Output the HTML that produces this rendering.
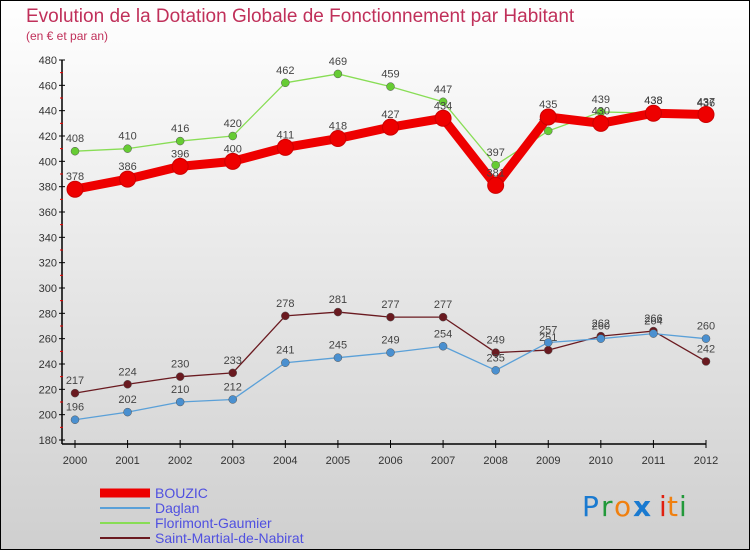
<!DOCTYPE html>
<html><head><meta charset="utf-8"><style>
body{margin:0;width:750px;height:550px;overflow:hidden}
svg{display:block;font-family:"Liberation Sans",sans-serif}
</style></head><body>
<svg width="750" height="550">
<defs><linearGradient id="bg" x1="0" y1="0" x2="0" y2="1"><stop offset="0" stop-color="#ffffff"/><stop offset="1" stop-color="#cfcfcf"/></linearGradient></defs>
<rect x="0.5" y="0.5" width="749" height="549" fill="url(#bg)" stroke="#000"/>
<text x="26" y="22" font-size="19" fill="#c0305a">Evolution de la Dotation Globale de Fonctionnement par Habitant</text>
<text x="26" y="40" font-size="12" fill="#c0305a">(en € et par an)</text>
<g id="axes"></g>
<g id="series"></g>
<g id="legend"></g>
<g font-size="28" font-family="'DejaVu Sans',sans-serif">
<text x="582" y="516" fill="#1a7ad0">P</text><text x="601" y="516" fill="#22993a">r</text><text x="614" y="516" fill="#f08010">o</text><text x="633" y="516" fill="#1a7ad0" font-weight="bold">x</text><text x="659" y="516" fill="#e02010">i</text><text x="667" y="516" fill="#f08010">t</text><text x="679" y="516" fill="#22993a">i</text>
</g>
</svg>
<script>
const years=[2000,2001,2002,2003,2004,2005,2006,2007,2008,2009,2010,2011,2012];
const yTicks=[180,200,220,240,260,280,300,320,340,360,380,400,420,440,460,480];
const bouzic=[378,386,396,400,411,418,427,434,381,435,430,438,437];
const daglan=[196,202,210,212,241,245,249,254,235,257,260,264,260];
const florimont=[408,410,416,420,462,469,459,447,397,424,439,438,436];
const stMartial=[217,224,230,233,278,281,277,277,249,251,262,266,242];
const NS="http://www.w3.org/2000/svg";
function X(i){return 75+i*(706-75)/12;}
function Y(v){return 440-(v-180)*380/300;}
function mk(tag,attrs,parent){const e=document.createElementNS(NS,tag);for(const k in attrs)e.setAttribute(k,attrs[k]);parent.appendChild(e);return e;}
const axes=document.getElementById('axes');
const ya=mk('line',{x1:62,y1:60,x2:62,y2:444,stroke:'#000','stroke-width':1.5},axes);


const xa=mk('line',{x1:62,y1:444,x2:706,y2:444,stroke:'#000','stroke-width':1.5},axes);


yTicks.forEach((v,i)=>{
 mk('line',{x1:59,y1:Y(v),x2:65,y2:Y(v),stroke:'#000'},axes);
 if(i<yTicks.length-1) mk('line',{x1:60,y1:Y(v+10),x2:63,y2:Y(v+10),stroke:'#e00'},axes);
 const t=mk('text',{x:57,y:Y(v)+4,'font-size':11,fill:'#333','text-anchor':'end'},axes);t.textContent=v;
 
 
});
years.forEach((yr,i)=>{
 mk('line',{x1:X(i),y1:440,x2:X(i),y2:448,stroke:'#000'},axes);
 const t=mk('text',{x:X(i),y:464,'font-size':11,fill:'#333','text-anchor':'middle'},axes);t.textContent=yr;
 
 
});
const defs=[
 {d:florimont,c:'#88dd55',mc:'#66cc33',w:1.3,r:4,n:'florimont-gaumier',label:'Florimont-Gaumier'},
 {d:stMartial,c:'#6a1a20',mc:'#6a1a20',w:1.3,r:4,n:'saint-martial-de-nabirat',label:'Saint-Martial-de-Nabirat'},
 {d:daglan,c:'#5aa0d8',mc:'#4a90d0',w:1.3,r:4,n:'daglan',label:'Daglan'},
 {d:bouzic,c:'#ee0000',mc:'#ee0000',w:9,r:8,n:'bouzic',label:'BOUZIC'}
];
const sg=document.getElementById('series');
defs.forEach(s=>{
 const g=mk('g',{},sg);
 
 
 const pl=mk('polyline',{points:s.d.map((v,i)=>X(i)+','+Y(v)).join(' '),fill:'none',stroke:s.c,'stroke-width':s.w,'stroke-linejoin':'round'},g);
 
 
 s.d.forEach((v,i)=>{
  const c=mk('circle',{cx:X(i),cy:Y(v),r:s.r,fill:s.mc,stroke:s.n==='bouzic'?'#cc0000':'#555','stroke-width':s.n==='bouzic'?1:0.5},g);
  
  
  const t=mk('text',{x:X(i),y:Y(v)-9,'font-size':11,fill:'#444','text-anchor':'middle'},g);t.textContent=v;
  
  
 });
});
const lg=document.getElementById('legend');
const order=[defs[3],defs[2],defs[0],defs[1]];
order.forEach((s,i)=>{
 const y=493+i*15;
 const e=mk('g',{},lg);
 
 
 mk('line',{x1:100,y1:y,x2:150,y2:y,stroke:s.c,'stroke-width':s.n==='bouzic'?9:2},e);
 const t=mk('text',{x:155,y:y+5,'font-size':14,fill:'#5050e0'},e);t.textContent=s.label;
 
 
});
</script>
</body></html>
